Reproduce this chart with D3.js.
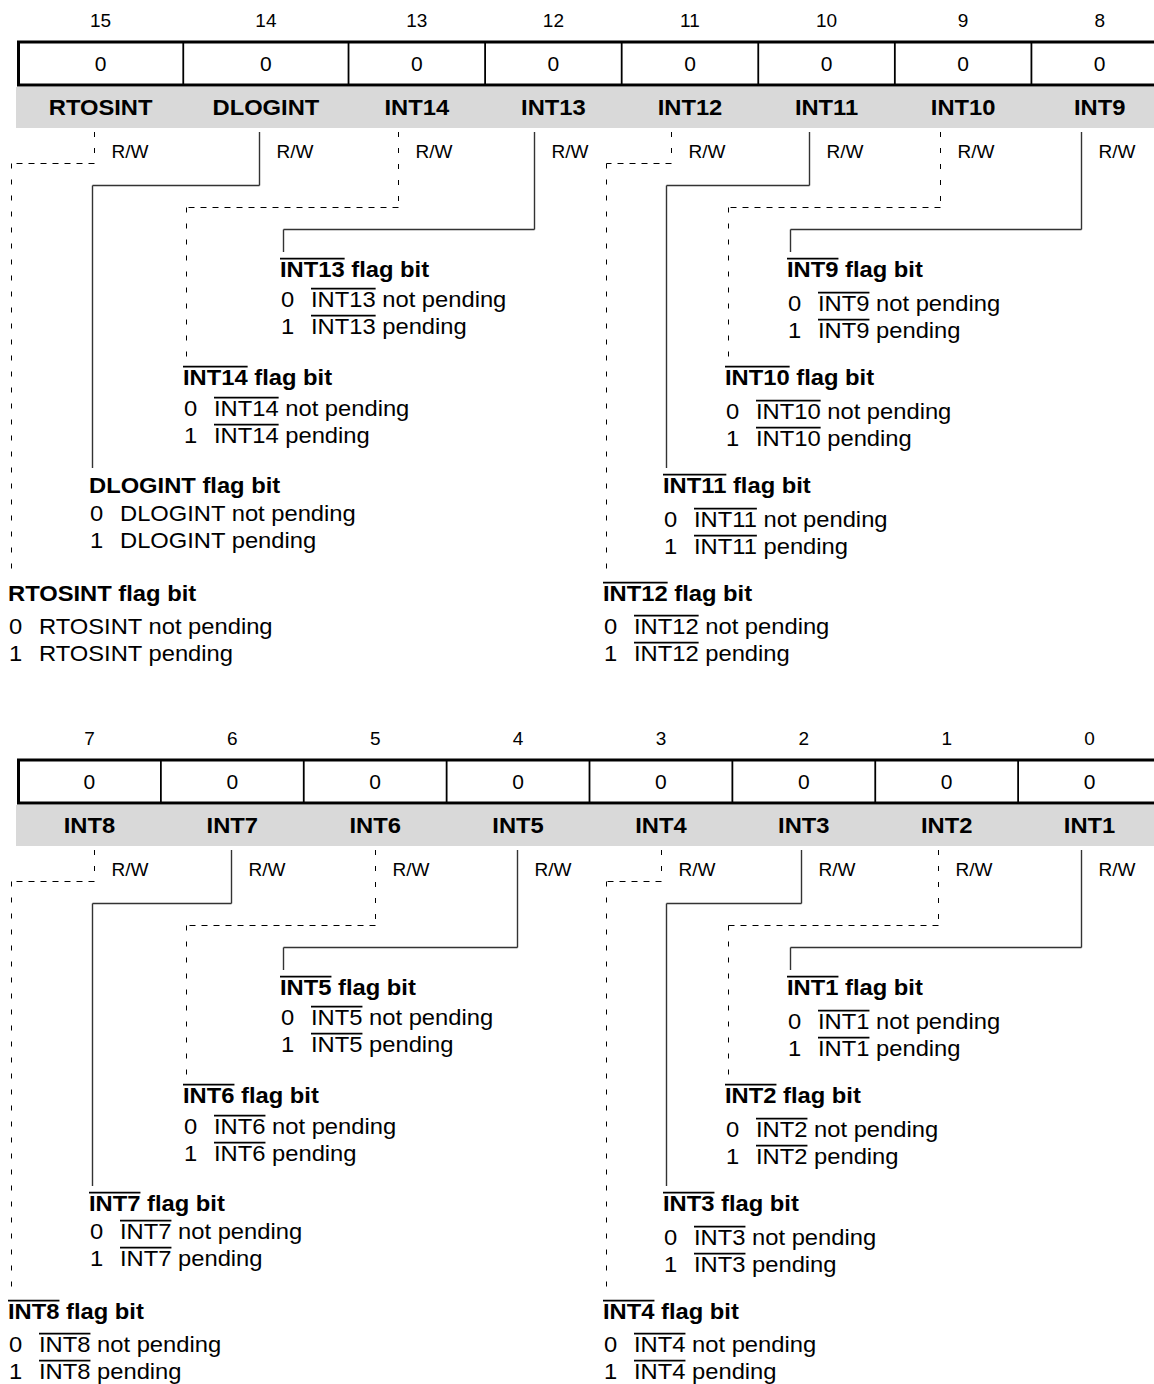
<!DOCTYPE html>
<html>
<head>
<meta charset="utf-8">
<script src="https://cdn.jsdelivr.net/npm/d3@7"></script>
<style>
  body { margin: 0; background: #fff; }
  svg text { font-family: "Liberation Sans", Arial, Helvetica, sans-serif; fill: #000; }
</style>
</head>
<body>
<div id="chart"></div>
<script>
// register content: high byte (bits 15..8) then low byte (bits 7..0)
var highBits = [15, 14, 13, 12, 11, 10, 9, 8];
var highNames = ["RTOSINT", "DLOGINT", "INT14", "INT13", "INT12", "INT11", "INT10", "INT9"];
var highReset = [0, 0, 0, 0, 0, 0, 0, 0];
var highAccess = ["R/W", "R/W", "R/W", "R/W", "R/W", "R/W", "R/W", "R/W"];
var highActiveLow = [false, false, true, true, true, true, true, true];

var lowBits = [7, 6, 5, 4, 3, 2, 1, 0];
var lowNames = ["INT8", "INT7", "INT6", "INT5", "INT4", "INT3", "INT2", "INT1"];
var lowReset = [0, 0, 0, 0, 0, 0, 0, 0];
var lowAccess = ["R/W", "R/W", "R/W", "R/W", "R/W", "R/W", "R/W", "R/W"];
var lowActiveLow = [true, true, true, true, true, true, true, true];

var flagSuffix = "flag bit";
var stateValues = [0, 1];
var stateTexts = ["not pending", "pending"];

// layout
var W = 1154, H = 1384;
var stretch = 1.08;   // the source font runs a little wide

var svg = d3.select("#chart").append("svg")
    .attr("width", W)
    .attr("height", H);

var registers = [
    { bits: highBits, names: highNames, reset: highReset, access: highAccess, activeLow: highActiveLow,
      weights: [1.21, 1.21, 1, 1, 1, 1, 1, 1], stubFrac: [0.46, 0.46, 0.36, 0.36, 0.36, 0.37, 0.33, 0.36],
      right: 1168, top: 0 },
    { bits: lowBits, names: lowNames, reset: lowReset, access: lowAccess, activeLow: lowActiveLow,
      weights: [1, 1, 1, 1, 1, 1, 1, 1], stubFrac: [0.53, 0.49, 0.5, 0.49, 0.5, 0.48, 0.44, 0.44],
      right: 1161, top: 718 }
];

// where each branch drops down (per half of the byte, per nesting tier)
var dropX = [[11, 92, 186, 283], [606, 666, 728, 790]];
var descGap = [[33, 28, 31, 30], [33, 34, 34, 34]];
var levelY = d3.scaleLinear().domain([0, 3]).range([163, 229]);
var labelY = d3.scaleLinear().domain([0, 3]).range([593, 269]);

// text placed with a slight horizontal stretch
function stext(g, x, y, str, size, bold, anchor) {
    var wrap = g.append("g")
        .attr("transform", "translate(" + x + "," + y + ") scale(" + stretch + ",1)");
    var t = wrap.append("text")
        .attr("x", 0).attr("y", 0)
        .attr("font-size", size)
        .attr("font-weight", bold ? "bold" : null)
        .attr("text-anchor", anchor || "start")
        .text(str);
    return { wrap: wrap, text: t, size: size };
}

function overline(st, nChars) {
    var w = st.text.node().getSubStringLength(0, nChars);
    var oy = -st.size * 0.72 - 2.5;
    st.wrap.append("line")
        .attr("x1", 0).attr("x2", w)
        .attr("y1", oy).attr("y2", oy)
        .attr("stroke", "#000").attr("stroke-width", 1.6);
}

registers.forEach(function(reg) {
    var g = svg.append("g").attr("transform", "translate(0," + reg.top + ")");

    var cum = [0];
    reg.weights.forEach(function(w) { cum.push(cum[cum.length - 1] + w); });
    var x = d3.scaleLinear().domain([0, cum[cum.length - 1]]).range([18, reg.right]);

    var cells = reg.bits.map(function(b, i) {
        return { bit: b, name: reg.names[i], reset: reg.reset[i], access: reg.access[i],
                 low: reg.activeLow[i], x0: x(cum[i]), x1: x(cum[i + 1]), i: i };
    });

    // grey name band
    g.append("rect")
        .attr("x", 16).attr("y", 87)
        .attr("width", reg.right - 6).attr("height", 41)
        .attr("fill", "#d9d9d9");

    // value box
    g.append("rect")
        .attr("x", 18.5).attr("y", 42)
        .attr("width", reg.right - 18).attr("height", 43)
        .attr("fill", "#fff")
        .attr("stroke", "#000").attr("stroke-width", 3);

    g.selectAll(".divider")
        .data(cells.slice(1))
        .enter().append("line")
        .attr("class", "divider")
        .attr("x1", function(d) { return d.x0; }).attr("x2", function(d) { return d.x0; })
        .attr("y1", 42).attr("y2", 85)
        .attr("stroke", "#000").attr("stroke-width", 1.8);

    // bit numbers
    g.selectAll(".bitnum")
        .data(cells)
        .enter().append("text")
        .attr("class", "bitnum")
        .attr("x", function(d) { return (d.x0 + d.x1) / 2; })
        .attr("y", 27)
        .attr("text-anchor", "middle")
        .attr("font-size", 19)
        .text(function(d) { return d.bit; });

    // reset values
    g.selectAll(".val")
        .data(cells)
        .enter().append("text")
        .attr("class", "val")
        .attr("x", function(d) { return (d.x0 + d.x1) / 2; })
        .attr("y", 71)
        .attr("text-anchor", "middle")
        .attr("font-size", 21)
        .text(function(d) { return d.reset; });

    cells.forEach(function(d) {
        // field name in the band
        stext(g, (d.x0 + d.x1) / 2, 115, d.name, 22, true, "middle");

        var half = Math.floor(d.i / 4), tier = d.i % 4;
        var dashed = tier % 2 === 0;
        var sx = Math.round(d.x0 + reg.stubFrac[d.i] * (d.x1 - d.x0)) + 0.5;
        var hy = Math.round(levelY(tier)) + 0.5;
        var dx = dropX[half][tier] + 0.5;
        var ly = labelY(tier);
        var endY = ly - 17;

        // access text
        g.append("text")
            .attr("x", sx + 17).attr("y", 158)
            .attr("font-size", 19)
            .text(d.access);

        // connector
        var stroke = dashed ? "#000" : "#333";
        var sw = dashed ? 1 : 1.4;
        var segs = [[sx, 132, sx, hy], [sx, hy, dx, hy], [dx, hy, dx, endY]];
        segs.forEach(function(s, k) {
            g.append("line")
                .attr("x1", s[0]).attr("y1", s[1]).attr("x2", s[2]).attr("y2", s[3])
                .attr("stroke", stroke).attr("stroke-width", sw)
                .attr("stroke-dasharray", dashed ? (k === 1 ? "6,6" : "5,11") : null);
        });

        // label block
        var lx = dx - 3.5;
        var base = ly + 8;
        var lab = stext(g, lx, base, d.name + " " + flagSuffix, 22, true);
        if (d.low) overline(lab, d.name.length);

        stateValues.forEach(function(v, k) {
            var b = base + descGap[half][tier] + k * 27;
            stext(g, lx + 1, b, v, 22, false);
            var t = stext(g, lx + 31, b, d.name + " " + stateTexts[k], 22, false);
            if (d.low) overline(t, d.name.length);
        });
    });
});
</script>
</body>
</html>
